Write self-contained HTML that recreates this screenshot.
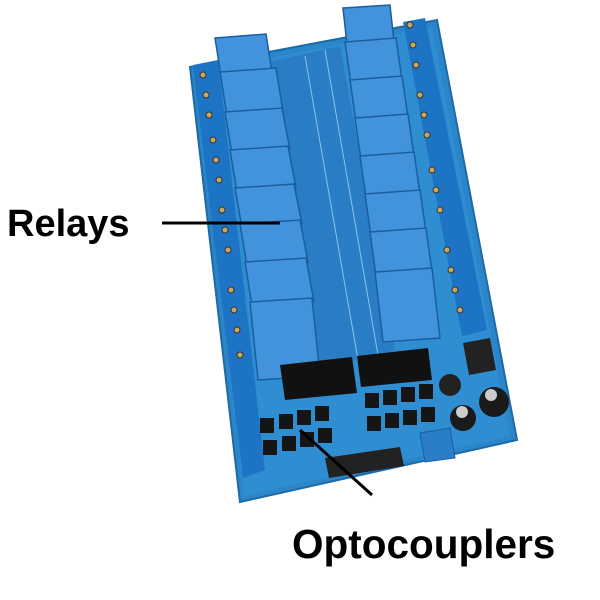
<!DOCTYPE html>
<html><head><style>
html,body{margin:0;padding:0;background:#fff;width:600px;height:600px;overflow:hidden}
.t{position:absolute;font-family:"Liberation Sans",sans-serif;font-weight:bold;color:#000;white-space:nowrap}
</style></head><body>
<svg width="600" height="600" style="position:absolute;left:0;top:0" xmlns="http://www.w3.org/2000/svg">
<polygon points="190,67 437,20 517,440 240,502" fill="#2a86c8" stroke="#1d6aa8" stroke-width="2"/>
<polygon points="196,72 432,27 510,436 244,496" fill="#2f8ed2"/>
<polygon points="270,62 340,46 395,350 320,370" fill="#2a7cc4"/>
<line x1="305" y1="56" x2="358" y2="360" stroke="#8cc2ea" stroke-width="1"/>
<line x1="325" y1="50" x2="378" y2="355" stroke="#8cc2ea" stroke-width="1"/>
<polygon points="193,65 218,60 265,470 243,478" fill="#1e74c4"/>
<polygon points="403,22 425,18 487,330 462,336" fill="#1e74c4"/>
<g fill="#c8a860" stroke="#333" stroke-width="1">
<circle cx="203" cy="75" r="3"/><circle cx="206" cy="95" r="3"/><circle cx="209" cy="115" r="3"/><circle cx="213" cy="140" r="3"/><circle cx="216" cy="160" r="3"/><circle cx="219" cy="180" r="3"/><circle cx="222" cy="210" r="3"/><circle cx="225" cy="230" r="3"/><circle cx="228" cy="250" r="3"/><circle cx="231" cy="290" r="3"/><circle cx="234" cy="310" r="3"/><circle cx="237" cy="330" r="3"/><circle cx="240" cy="355" r="3"/>
<circle cx="410" cy="25" r="3"/><circle cx="413" cy="45" r="3"/><circle cx="416" cy="65" r="3"/><circle cx="420" cy="95" r="3"/><circle cx="424" cy="115" r="3"/><circle cx="427" cy="135" r="3"/><circle cx="432" cy="170" r="3"/><circle cx="436" cy="190" r="3"/><circle cx="440" cy="210" r="3"/><circle cx="447" cy="250" r="3"/><circle cx="451" cy="270" r="3"/><circle cx="455" cy="290" r="3"/><circle cx="460" cy="310" r="3"/>
</g>
<g fill="#4292dc" stroke="#1b5ea0" stroke-width="1.5">
<polygon points="215,38 266,34 272,72 221,76"/>
<polygon points="220,72 276,68 283,112 227,116"/>
<polygon points="225,112 282,108 290,150 232,154"/>
<polygon points="230,150 288,146 296,188 237,192"/>
<polygon points="235,188 294,184 302,224 242,228"/>
<polygon points="240,224 300,220 308,262 247,266"/>
<polygon points="245,262 306,258 314,302 252,306"/>
<polygon points="250,302 312,298 320,376 258,380"/>
</g>
<g fill="#4292dc" stroke="#1b5ea0" stroke-width="1.5">
<polygon points="343,8 390,5 394,42 347,45"/>
<polygon points="345,42 396,38 402,80 351,84"/>
<polygon points="350,80 402,76 408,118 356,122"/>
<polygon points="355,118 408,114 414,156 361,160"/>
<polygon points="360,156 414,152 420,194 366,198"/>
<polygon points="365,194 420,190 426,232 371,236"/>
<polygon points="370,232 426,228 432,272 376,276"/>
<polygon points="375,272 432,268 440,338 383,342"/>
</g>
<polygon points="280,365 352,357 357,393 285,400" fill="#111"/>
<polygon points="357,356 428,348 432,380 361,387" fill="#111"/>
<polygon points="463,343 490,338 496,370 469,375" fill="#222"/>
<g fill="#151515">
<rect x="260" y="418" width="14" height="15"/><rect x="279" y="414" width="14" height="15"/><rect x="297" y="410" width="14" height="15"/><rect x="315" y="406" width="14" height="15"/>
<rect x="263" y="440" width="14" height="15"/><rect x="282" y="436" width="14" height="15"/><rect x="300" y="432" width="14" height="15"/><rect x="318" y="428" width="14" height="15"/>
<rect x="365" y="393" width="14" height="15"/><rect x="383" y="390" width="14" height="15"/><rect x="401" y="387" width="14" height="15"/><rect x="419" y="384" width="14" height="15"/>
<rect x="367" y="416" width="14" height="15"/><rect x="385" y="413" width="14" height="15"/><rect x="403" y="410" width="14" height="15"/><rect x="421" y="407" width="14" height="15"/>
</g>
<polygon points="325,458 400,447 404,466 329,478" fill="#222"/>
<circle cx="450" cy="385" r="11" fill="#222"/>
<circle cx="463" cy="418" r="13" fill="#1a1a1a"/>
<circle cx="494" cy="402" r="15" fill="#1a1a1a"/>
<circle cx="462" cy="412" r="6" fill="#ccc"/>
<circle cx="491" cy="395" r="6" fill="#ccc"/>
<polygon points="420,433 450,428 455,458 425,462" fill="#2a7dc8" stroke="#1b5ea0"/>
<line x1="162" y1="223" x2="280" y2="223" stroke="#000" stroke-width="3"/>
<line x1="300" y1="430" x2="372" y2="495" stroke="#000" stroke-width="3"/>
</svg>
<div class="t" style="left:7px;top:202px;font-size:38px;line-height:44px">Relays</div>
<div class="t" style="left:292px;top:522px;font-size:40.5px;line-height:44px">Optocouplers</div>
</body></html>
